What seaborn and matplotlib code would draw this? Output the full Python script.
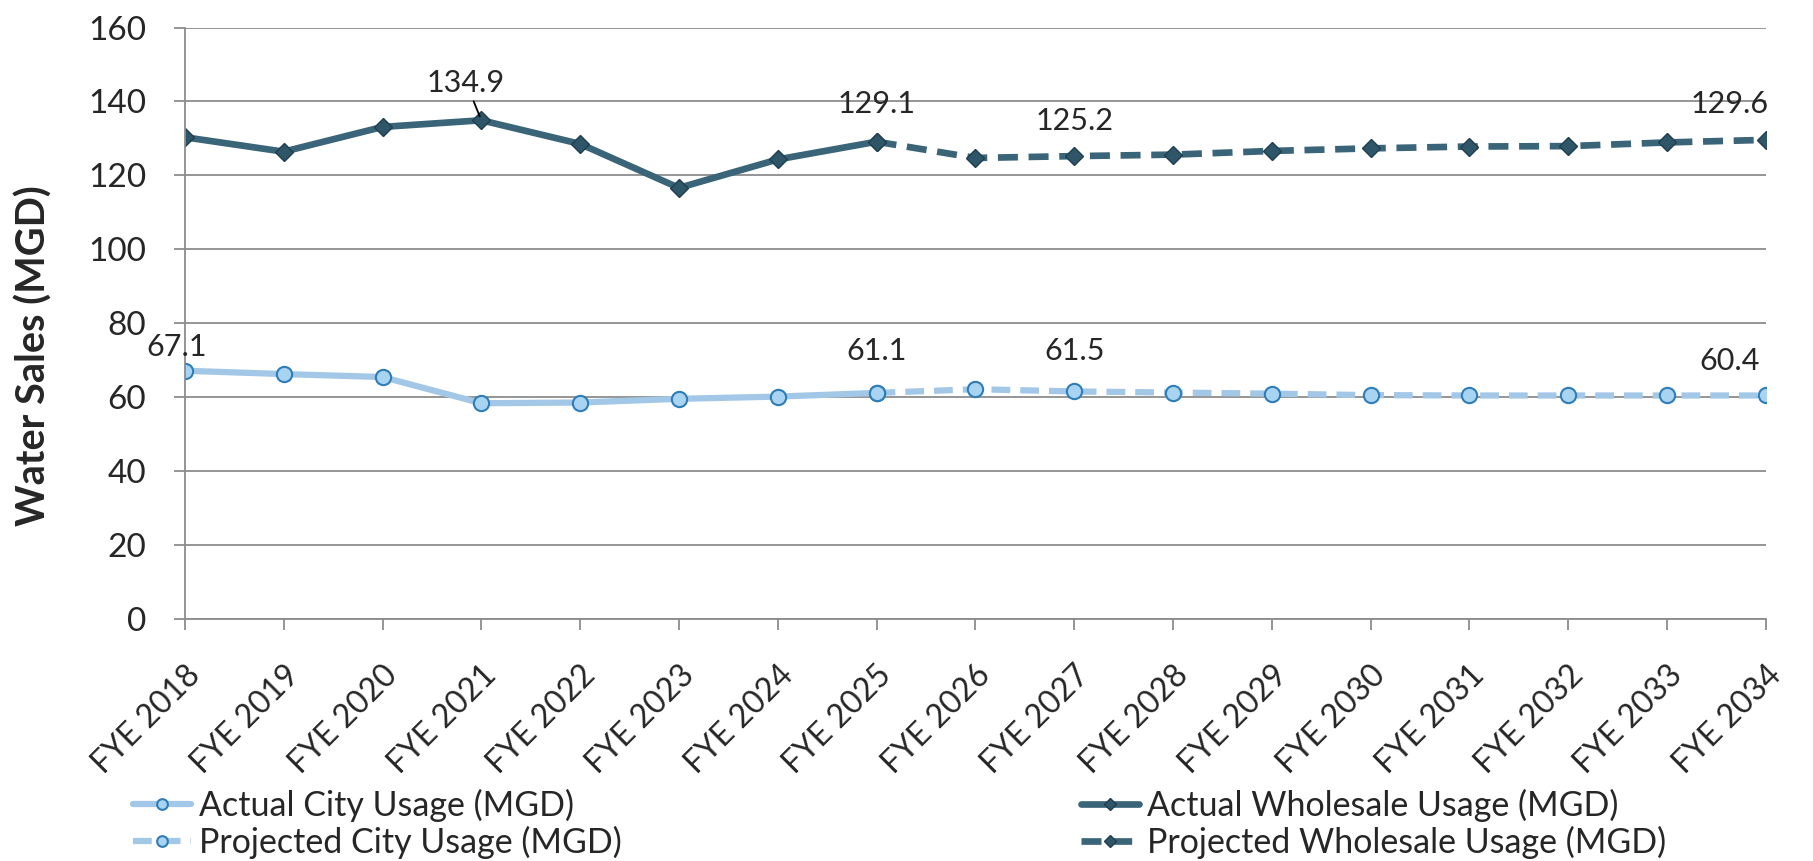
import pandas as pd
import seaborn as sns
import matplotlib.pyplot as plt

years = ["FYE 2018", "FYE 2019", "FYE 2020", "FYE 2021", "FYE 2022", "FYE 2023",
         "FYE 2024", "FYE 2025", "FYE 2026", "FYE 2027", "FYE 2028", "FYE 2029",
         "FYE 2030", "FYE 2031", "FYE 2032", "FYE 2033", "FYE 2034"]

actual_years = years[:8]
projected_years = years[7:]

actual_city = [67.1, 66.2, 65.4, 58.3, 58.5, 59.5, 60.1, 61.1]
projected_city = [61.1, 62.1, 61.5, 61.2, 60.9, 60.5, 60.4, 60.4, 60.4, 60.4]
actual_wholesale = [130.3, 126.4, 133.1, 134.9, 128.5, 116.6, 124.3, 129.1]
projected_wholesale = [129.1, 124.7, 125.2, 125.6, 126.6, 127.3, 127.8, 127.9, 128.9, 129.6]

y_ticks = [0, 20, 40, 60, 80, 100, 120, 140, 160]

CITY_LINE = "#A3C7E6"
CITY_FACE = "#A8D4F2"
CITY_EDGE = "#2E7DB8"
WHOLE_LINE = "#3A6478"
WHOLE_FACE = "#2E5568"
WHOLE_EDGE = "#1F3E4E"
GRID = "#8C8C8C"

sns.set_style("white")
plt.rcParams["font.family"] = ["Lato", "DejaVu Sans"]

fig = plt.figure(figsize=(18.13, 8.61), dpi=100)
ax = fig.add_axes([0.102, 0.2815, 0.872, 0.6865])

pos = {y: i for i, y in enumerate(years)}


def frame(labels, values):
    return pd.DataFrame({"x": [pos[l] for l in labels], "y": values})


city_kw = dict(color=CITY_LINE, lw=4.5, marker="o", markersize=11,
               markerfacecolor=CITY_FACE, markeredgecolor=CITY_EDGE, markeredgewidth=1.5)
whole_kw = dict(color=WHOLE_LINE, lw=4.8, marker="D", markersize=9,
                markerfacecolor=WHOLE_FACE, markeredgecolor=WHOLE_EDGE, markeredgewidth=1)
dash = (0, (3, 1.6))

sns.lineplot(data=frame(projected_years, projected_city), x="x", y="y", ax=ax,
             linestyle=dash, label="Projected City Usage (MGD)", **city_kw)
sns.lineplot(data=frame(actual_years, actual_city), x="x", y="y", ax=ax,
             label="Actual City Usage (MGD)", **city_kw)
sns.lineplot(data=frame(projected_years, projected_wholesale), x="x", y="y", ax=ax,
             linestyle=dash, label="Projected Wholesale Usage (MGD)", **whole_kw)
sns.lineplot(data=frame(actual_years, actual_wholesale), x="x", y="y", ax=ax,
             label="Actual Wholesale Usage (MGD)", **whole_kw)

# data labels
lab_fs = 22
def lab(year, val, dx, dy, arrow=False):
    props = None
    if arrow:
        props = dict(arrowstyle="-", color="black", lw=1.3, shrinkA=1, shrinkB=3)
    ax.annotate(f"{val}", xy=(pos[year], val), xytext=(dx, dy), textcoords="offset points",
                ha="center", va="bottom", fontsize=lab_fs, arrowprops=props)

lab("FYE 2018", actual_city[0], -6, 7)
lab("FYE 2021", actual_wholesale[3], -11, 17, arrow=True)
lab("FYE 2025", actual_wholesale[7], 0, 17)
lab("FYE 2027", projected_wholesale[2], 0, 15)
lab("FYE 2034", projected_wholesale[-1], -26, 16)
lab("FYE 2025", actual_city[7], 0, 20)
lab("FYE 2027", projected_city[2], 0, 19)
lab("FYE 2034", projected_city[-1], -26, 15)

ax.set_xlim(0, len(years) - 1)
ax.set_ylim(0, 160)
ax.set_yticks(y_ticks)
ax.set_xticks(range(len(years)))
ax.set_xticklabels(years, rotation=45, ha="right", rotation_mode="anchor", fontsize=23)
ax.tick_params(axis="y", labelsize=24, length=8, color=GRID, width=1.3, pad=20, left=True)
ax.tick_params(axis="x", length=8, color=GRID, width=1.3, pad=22, bottom=True)
ax.yaxis.grid(True, color=GRID, lw=1.3)
ax.xaxis.grid(False)
for side in ["top", "right"]:
    ax.spines[side].set_visible(False)
for side in ["left", "bottom"]:
    ax.spines[side].set_color(GRID)
    ax.spines[side].set_linewidth(1.3)
ax.set_axisbelow(True)
ax.set_xlabel("")
ax.set_ylabel("Water Sales (MGD)", fontsize=28.5, fontweight="bold")
ax.yaxis.set_label_coords(-0.0835, 0.445)

handles, labels = ax.get_legend_handles_labels()
order = ["Actual City Usage (MGD)", "Projected City Usage (MGD)",
         "Actual Wholesale Usage (MGD)", "Projected Wholesale Usage (MGD)"]
hmap = dict(zip(labels, handles))
ax.get_legend().remove()
fig.legend([hmap[l] for l in order], order, loc="lower left", ncol=2,
           bbox_to_anchor=(0.064, -0.017), frameon=False, fontsize=24.5, borderpad=0,
           handlelength=1.7, handletextpad=0.24, columnspacing=13.5, labelspacing=0.1,
           markerscale=0.7)

fig.savefig("out.png", dpi=100)
